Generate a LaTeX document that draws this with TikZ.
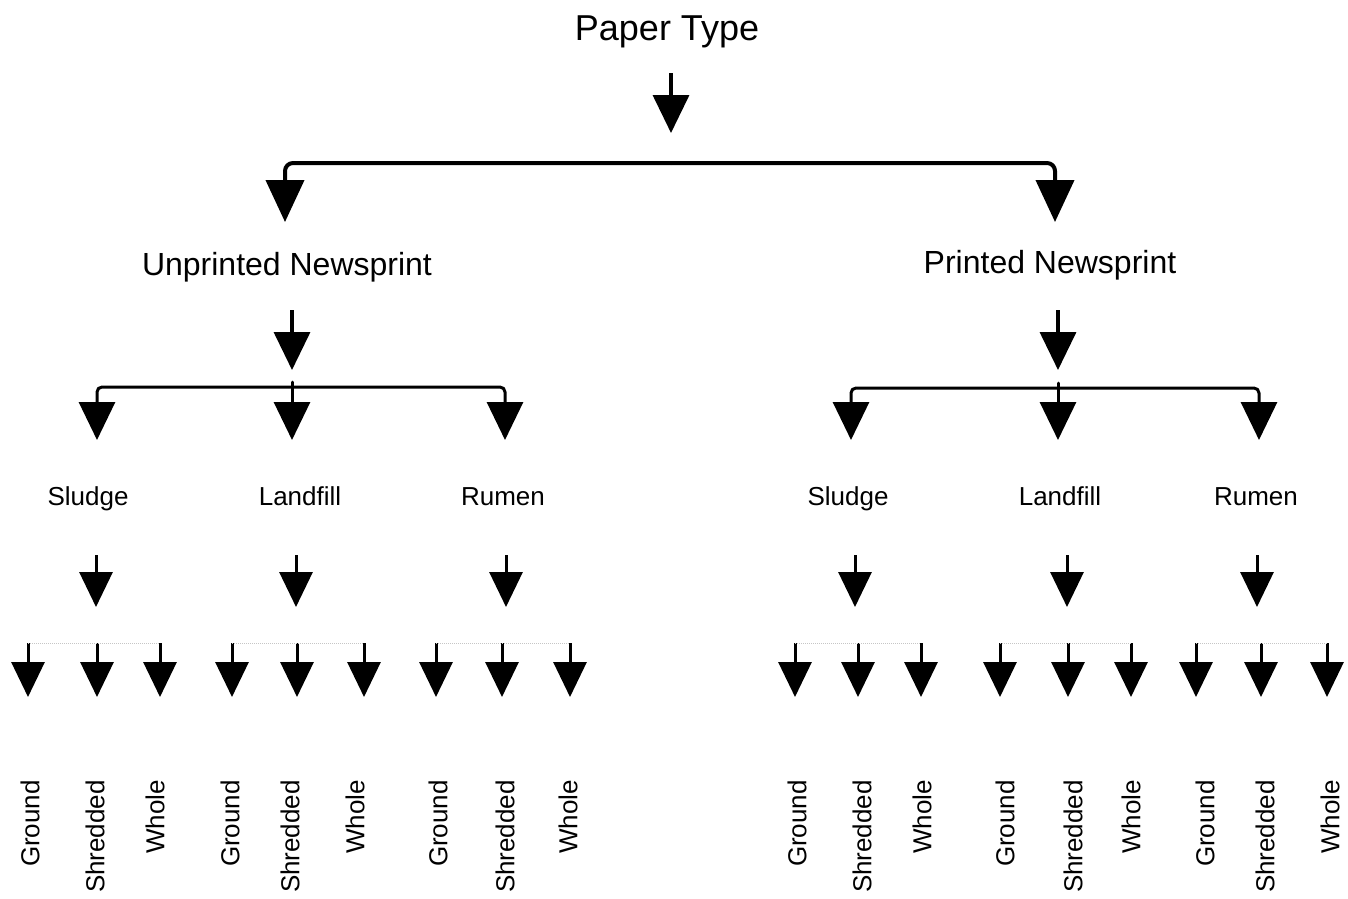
\documentclass[tikz,border=0pt]{standalone}
\usepackage{fontspec}
\setmainfont{Liberation Sans}
\usetikzlibrary{arrows.meta}
\begin{document}
\begin{tikzpicture}[x=1pt, y=-1pt, line join=round]
	\tikzstyle{title}    = [font=\fontsize{36}{40}\selectfont, anchor=base]
	\tikzstyle{kind}     = [font=\fontsize{32}{36}\selectfont, anchor=base]
	\tikzstyle{site}     = [font=\fontsize{26}{30}\selectfont, anchor=base]
	\tikzstyle{form}     = [font=\fontsize{26}{30}\selectfont, rotate=90, anchor=east, inner sep=0pt]
	\tikzstyle{bigarr}   = [line width=3.5pt, -{Triangle[width=36pt, length=38pt]}]
	\tikzstyle{toparr}   = [line width=4pt, rounded corners=8pt, -{Triangle[width=38pt, length=42pt]}]
	\tikzstyle{midarr}   = [line width=3pt, rounded corners=5pt, -{Triangle[width=36pt, length=38pt]}]
	\tikzstyle{smallarr} = [line width=3pt, -{Triangle[width=33pt, length=35pt]}]
	\tikzstyle{faint}    = [line width=1pt, gray!45, densely dotted]

	\useasboundingbox (0,0) rectangle (1348,898);

	\node[title] (paper) at (667,40) {Paper Type};
	\coordinate (pa) at (671,73);
	\coordinate (pb) at (671,133);
	\draw[bigarr] (pa) -- (pb);

%	split into the two kinds of newsprint
	\coordinate (split) at (671,163);
	\coordinate (unpt) at (285,222);
	\coordinate (prit) at (1055,222);
	\draw[toparr] (split) -| (unpt);
	\draw[toparr] (split) -| (prit);

	\node[kind] (unp) at (287,275) {Unprinted Newsprint};
	\node[kind] (pri) at (1050,273) {Printed Newsprint};

	\foreach \k/\x in {unp/292, pri/1058}
		\draw[bigarr] (\x,310) coordinate (\k a) -- (\x,370) coordinate (\k b);

	\coordinate (unpm) at (292,387);
	\coordinate (prim) at (1058,388);
	\foreach \s/\x in {us/97, ul/292, ur/505, ps/851, pl/1058, pr/1259}
		\coordinate (\s t) at (\x,440);
	\foreach \s in {us, ul, ur}
		\draw[midarr] (unpm) -| (\s t);
	\foreach \s in {ps, pl, pr}
		\draw[midarr] (prim) -| (\s t);

	\foreach \s/\text/\x in {us/Sludge/88, ul/Landfill/300, ur/Rumen/503, ps/Sludge/848, pl/Landfill/1060, pr/Rumen/1256}
		\node[site] (\s) at (\x,505) {\text};

	\foreach \s/\x in {us/96, ul/296, ur/506, ps/855, pl/1067, pr/1257}
		\draw[smallarr] (\x,555) coordinate (\s a) -- (\x,607) coordinate (\s b);

%	ground, shredded, whole under each site
	\foreach \f/\x/\lx/\text in {usg/28/30/Ground, uss/97/95/Shredded, usw/160/155/Whole,
			ulg/232/230/Ground, uls/297/290/Shredded, ulw/364/355/Whole,
			urg/436/438/Ground, urs/502/505/Shredded, urw/570/568/Whole,
			psg/795/797/Ground, pss/858/862/Shredded, psw/921/922/Whole,
			plg/1000/1005/Ground, pls/1068/1073/Shredded, plw/1131/1131/Whole,
			prg/1196/1205/Ground, prs/1261/1265/Shredded, prw/1327/1330/Whole}{
		\draw[smallarr] (\x,643) coordinate (\f a) -- (\x,697) coordinate (\f b);
		\node[form] (\f) at (\lx,780) {\text};
	}

	\foreach \from/\to in {usg/usw, ulg/ulw, urg/urw, psg/psw, plg/plw, prg/prw}
		\draw[faint] (\from a) -- (\to a);

\end{tikzpicture}
\end{document}
